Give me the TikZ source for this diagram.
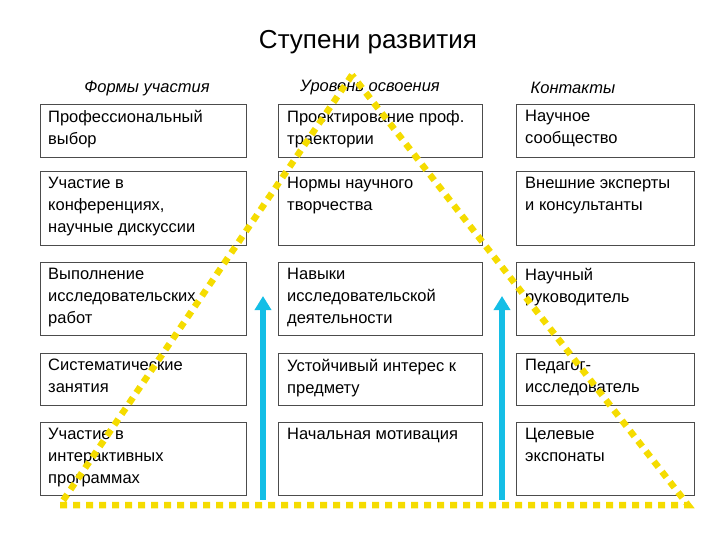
\documentclass[tikz,border=0pt]{standalone}
\usepackage{fontspec}
\usetikzlibrary{arrows.meta}
\setmainfont{Liberation Sans}
\definecolor{arrcyan}{RGB}{20,190,230}
\definecolor{dotyel}{RGB}{245,220,0}
\begin{document}
\begin{tikzpicture}[x=1pt,y=-1pt,
  box/.style={draw=black!70,line width=0.8pt,fill=white,inner sep=0pt},
  txt/.style={anchor=north west,align=left,font=\fontsize{16.5}{22}\selectfont,inner sep=0pt},
  hdr/.style={font=\itshape\fontsize{16.5}{18}\selectfont},
  up/.style={-{Triangle[width=16pt,length=14pt]},line width=6pt,draw=arrcyan},
  dots/.style={draw=dotyel,line width=6.5pt,dash pattern=on 7pt off 6pt}]
\useasboundingbox (0,0) rectangle (720,540);
\node[font=\fontsize{26}{30}\selectfont] (title) at (368,42) {Ступени развития};
\node[hdr] (h1) at (147,88) {Формы участия};
\node[hdr] (h2) at (370,88) {Уровень освоения};
\node[hdr] (h3) at (573,88) {Контакты};
\def\rows{104/157/1,171/245/2,262/335/3,353/405/4,422/495/5}
\foreach \t/\b/\r in \rows {
  \draw[box] (40,\t) rectangle (246,\b);
  \draw[box] (278,\t) rectangle (482,\b);
  \draw[box] (516,\t) rectangle (694,\b);
}
\node[txt] (a1) at (48,110) {Профессиональный\\выбор};
\node[txt] (b1) at (287,110) {Проектирование проф.\\траектории};
\node[txt] (c1) at (525,110) {Научное\\сообщество};
\node[txt] (a2) at (48,177) {Участие в\\конференциях,\\научные дискуссии};
\node[txt] (b2) at (287,177) {Нормы научного\\творчества};
\node[txt] (c2) at (525,177) {Внешние эксперты\\и консультанты};
\node[txt] (a3) at (48,268) {Выполнение\\исследовательских\\работ};
\node[txt] (b3) at (287,268) {Навыки\\исследовательской\\деятельности};
\node[txt] (c3) at (525,268) {Научный\\руководитель};
\node[txt] (a4) at (48,359) {Систематические\\занятия};
\node[txt] (b4) at (287,359) {Устойчивый интерес к\\предмету};
\node[txt] (c4) at (525,359) {Педагог-\\исследователь};
\node[txt] (a5) at (48,428) {Участие в\\интерактивных\\программах};
\node[txt] (b5) at (287,428) {Начальная мотивация};
\node[txt] (c5) at (525,428) {Целевые\\экспонаты};
\coordinate (s1) at (263,500); \coordinate (e1) at (263,296);
\coordinate (s2) at (502,500); \coordinate (e2) at (502,296);
\draw[up] (s1) -- (e1);
\draw[up] (s2) -- (e2);
\coordinate (apex) at (352,75); \coordinate (bl) at (60,505); \coordinate (br) at (688,505);
\draw[dots] (apex) -- (bl) -- (br) -- cycle;
\end{tikzpicture}
\end{document}
